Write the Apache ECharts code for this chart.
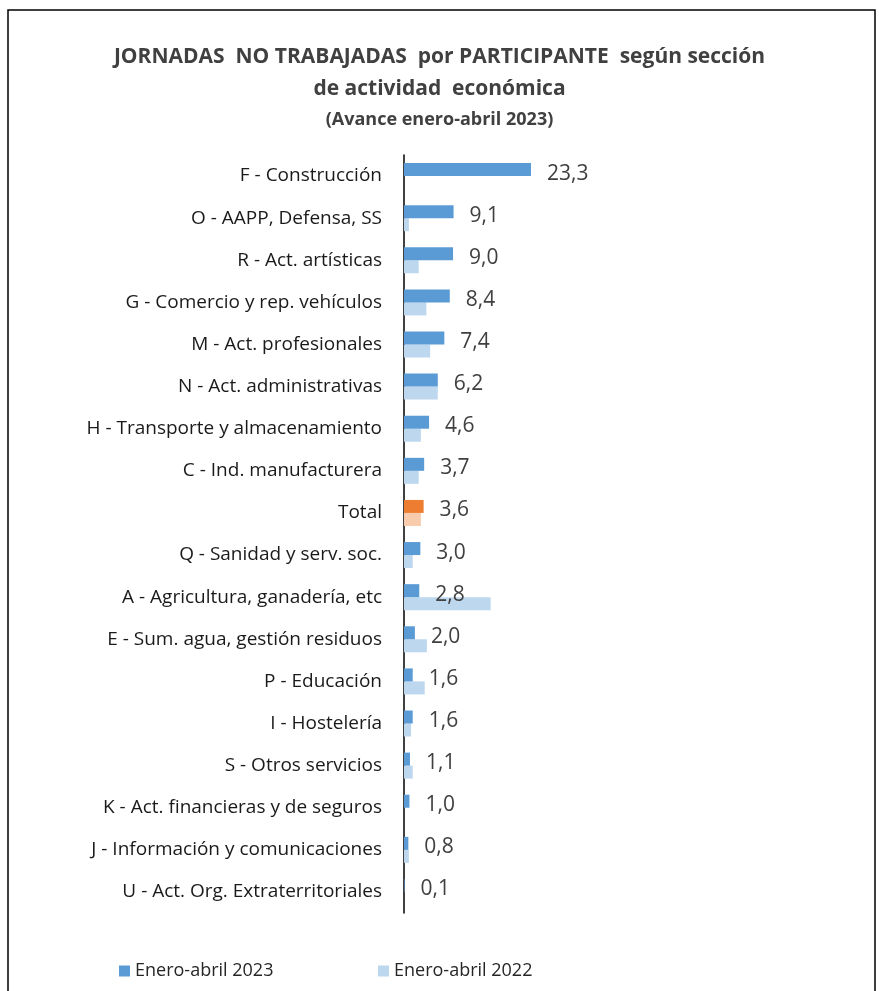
<!DOCTYPE html>
<html>
<head>
<meta charset="utf-8">
<script src="https://cdn.jsdelivr.net/npm/echarts@6/dist/echarts.min.js"></script>
<style>
  html, body { margin: 0; padding: 0; background: #fff; }
  #main { width: 879px; height: 991px; }
</style>
</head>
<body>
<div id="main"></div>
<script>
  // categorías (de arriba a abajo)
  var sectores = [
    'F - Construcción',
    'O - AAPP, Defensa, SS',
    'R - Act. artísticas',
    'G - Comercio y rep. vehículos',
    'M - Act. profesionales',
    'N - Act. administrativas',
    'H - Transporte y almacenamiento',
    'C - Ind. manufacturera',
    'Total',
    'Q - Sanidad y serv. soc.',
    'A - Agricultura, ganadería, etc',
    'E - Sum. agua, gestión residuos',
    'P - Educación',
    'I - Hostelería',
    'S - Otros servicios',
    'K - Act. financieras y de seguros',
    'J - Información y comunicaciones',
    'U - Act. Org. Extraterritoriales'
  ];
  var valores2023 = [23.3, 9.1, 9.0, 8.4, 7.4, 6.2, 4.6, 3.7, 3.6, 3.0, 2.8, 2.0, 1.6, 1.6, 1.1, 1.0, 0.8, 0.1];
  // 2022 estimado a partir de la longitud de las barras
  var valores2022 = [0, 0.9, 2.7, 4.1, 4.8, 6.2, 3.1, 2.7, 3.1, 1.6, 15.9, 4.2, 3.8, 1.3, 1.6, 0, 0.9, 0];

  var fuente = 'Open Sans';

  function coma(v) {
    return v.toFixed(1).replace('.', ',');
  }

  // la fila Total va en naranja
  function datos(valores, colorTotal) {
    return valores.map(function (v, i) {
      if (sectores[i] === 'Total') {
        return { value: v, itemStyle: { color: colorTotal } };
      }
      return v;
    });
  }

  var myChart = echarts.init(document.getElementById('main'));

  var option = {
    backgroundColor: '#fff',
    animation: false,
    title: {
      text: 'JORNADAS  NO TRABAJADAS  por PARTICIPANTE  según sección\nde actividad  económica',
      subtext: '(Avance enero-abril 2023)',
      left: 'center',
      top: 36,
      itemGap: 6,
      textStyle: {
        fontFamily: fuente,
        fontSize: 21,
        fontWeight: 'bold',
        color: '#404040',
        lineHeight: 32
      },
      subtextStyle: {
        fontFamily: fuente,
        fontSize: 18,
        fontWeight: 'bold',
        color: '#404040'
      }
    },
    graphic: [
      {
        type: 'rect',
        shape: { x: 8, y: 10, width: 867, height: 1010 },
        style: { fill: 'none', stroke: '#000', lineWidth: 1.5 }
      }
    ],
    legend: [
      {
        data: ['Enero-abril 2023'],
        left: 114,
        top: 957,
        itemWidth: 11,
        itemHeight: 11,
        icon: 'rect',
        textStyle: { fontFamily: fuente, fontSize: 18, color: '#262626' }
      },
      {
        data: ['Enero-abril 2022'],
        left: 373,
        top: 957,
        itemWidth: 11,
        itemHeight: 11,
        icon: 'rect',
        textStyle: { fontFamily: fuente, fontSize: 18, color: '#262626' }
      }
    ],
    grid: {
      left: 404,
      top: 155,
      width: 163.5,
      height: 758
    },
    xAxis: {
      type: 'value',
      min: 0,
      max: 30,
      show: false
    },
    yAxis: {
      type: 'category',
      inverse: true,
      data: sectores,
      axisLine: { lineStyle: { color: '#000', width: 1.5 } },
      axisTick: { show: false },
      axisLabel: {
        fontFamily: fuente,
        fontSize: 19,
        color: '#1a1a1a',
        margin: 22
      }
    },
    series: [
      {
        name: 'Enero-abril 2023',
        type: 'bar',
        barWidth: 13,
        barGap: '0%',
        itemStyle: { color: '#5B9BD5' },
        data: datos(valores2023, '#ED7D31'),
        label: {
          show: true,
          position: 'right',
          distance: 16,
          offset: [0, 4],
          fontFamily: fuente,
          fontSize: 21,
          color: '#404040',
          formatter: function (p) { return coma(p.value); }
        },
        z: 3
      },
      {
        name: 'Enero-abril 2022',
        type: 'bar',
        barWidth: 13,
        barGap: '0%',
        itemStyle: { color: '#BDD7EE' },
        data: datos(valores2022, '#F8CBAD'),
        z: 2
      }
    ]
  };

  myChart.setOption(option);
</script>
</body>
</html>
